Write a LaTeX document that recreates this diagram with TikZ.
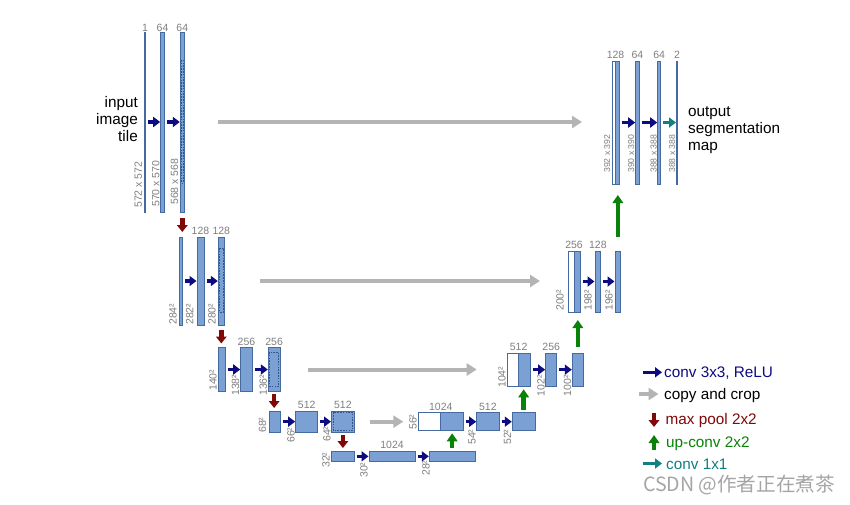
\documentclass[tikz,border=0pt]{standalone}
\usepackage{fontspec}
\setmainfont{Liberation Sans}
\newfontfamily\cjk{Noto Sans CJK SC}
\usetikzlibrary{arrows.meta,fit}
\definecolor{barfill}{RGB}{122,160,212}
\definecolor{barline}{RGB}{68,106,160}
\definecolor{dashc}{RGB}{50,85,140}
\definecolor{labgray}{RGB}{128,128,128}
\definecolor{convc}{RGB}{12,12,128}
\definecolor{copyg}{RGB}{180,180,180}
\definecolor{poolc}{RGB}{128,8,8}
\definecolor{upg}{RGB}{10,130,10}
\definecolor{tealc}{RGB}{16,128,128}
\definecolor{wmc}{RGB}{165,165,165}
\newcommand\UB[6][bar]{\node[#1, fit={(#3,#4) (#5,#6)}] (#2) {};}
\tikzset{
  bar/.style={draw=barline, fill=barfill, line width=0.8pt, inner sep=0pt, outer sep=0pt, minimum width=0pt, minimum height=0pt},
  cbar/.style={bar, fill=white},
  thinbar/.style={bar, line width=1pt},
  dashline/.style={draw=dashc, dash pattern=on 1.6pt off 1.2pt, line width=0.7pt},
  lab/.style={text=labgray, font=\fontsize{10.5}{12}\selectfont, inner sep=0pt},
  toplab/.style={lab, anchor=base, yshift=2.5pt},
  sidelab/.style={lab, rotate=90, anchor=west},
  smalllab/.style={sidelab, font=\fontsize{8.7}{10}\selectfont},
  conv/.style={draw=convc, line width=3.5pt, -{Triangle[length=7pt,width=10pt]}, shorten <=2.5pt, shorten >=0.5pt},
  one/.style={conv, draw=tealc},
  copyc/.style={draw=copyg, line width=4pt, -{Triangle[length=10pt,width=12pt]}},
  pool/.style={draw=poolc, line width=4.5pt, -{Triangle[length=7pt,width=10.5pt]}},
  upc/.style={draw=upg, line width=4.5pt, -{Triangle[length=8pt,width=10.5pt]}},
  txt/.style={font=\fontsize{15.3}{17}\selectfont, inner sep=0pt},
}
\begin{document}
\begin{tikzpicture}[x=1pt,y=-1pt]
\fill[white] (0,0) rectangle (850,504);
\useasboundingbox (0,0) rectangle (850,504);

% ---------- level 1 left ----------
\UB[thinbar]{a1}{144.6}{32}{145.6}{212}
\UB{a2}{160.7}{32}{164.3}{212}
\UB{a3}{180.3}{32}{184.3}{212}
\draw[dashline] (181.4,60) rectangle (183.2,183);
\node[toplab, yshift=-1.5pt] (ta1) at (a1.north) {1};
\node[toplab, yshift=-1.5pt] (ta2) at (a2.north) {64};
\node[toplab, yshift=-1.5pt] (ta3) at (a3.north) {64};
\node[sidelab] (sa1) at (138.3,208) {572 x 572};
\node[sidelab] (sa2) at (155.8,207) {570 x 570};
\node[sidelab] (sa3) at (174.5,205) {568 x 568};
\draw[conv] (a1) -- (a2);
\draw[conv] (a2) -- (a3);
\node[txt, anchor=east, align=right] (inp) at (138,119) {input\\image\\tile};

% ---------- level 1 right ----------
\UB[cbar]{r1a}{612}{61}{619}{184}
\UB{r1ab}{615}{61}{619}{184}
\UB{r1b}{635.7}{61}{639}{184}
\UB{r1c}{657.7}{61}{660.7}{184}
\UB[thinbar]{r1d}{676.5}{61}{677.5}{184}
\node[toplab] (tr1a) at (r1a.north) {128};
\node[toplab] (tr1b) at (r1b.north) {64};
\node[toplab] (tr1c) at (r1c.north) {64};
\node[toplab] (tr1d) at (r1d.north) {2};
\node[smalllab] (sr1a) at (607,173) {392 x 392};
\node[smalllab] (sr1b) at (631,173) {390 x 390};
\node[smalllab] (sr1c) at (653.5,173) {388 x 388};
\node[smalllab] (sr1d) at (672,173) {388 x 388};
\draw[conv] (r1a) -- (r1b);
\draw[conv] (r1b) -- (r1c);
\draw[one] (r1c) -- (r1d);
\node[txt, anchor=west, align=left] (outp) at (688,130) {output\\segmentation\\map};
\draw[copyc, shorten <=33.7pt, shorten >=30pt] (a3.east) -- (a3.east -| r1a.west);

% ---------- level 2 left ----------
\UB{l2a}{179.3}{237}{182.7}{325}
\UB{l2b}{197}{237}{204}{325}
\UB{l2c}{218.3}{237}{224.3}{325}
\draw[dashline] (219.5,248) rectangle (223.1,312);
\node[toplab] (tl2b) at (l2b.north) {128};
\node[toplab] (tl2c) at (l2c.north) {128};
\node[sidelab] (sl2a) at (173,325) {284²};
\node[sidelab] (sl2b) at (189.7,325) {282²};
\node[sidelab] (sl2c) at (212,325) {280²};
\draw[conv] (l2a) -- (l2b);
\draw[conv] (l2b) -- (l2c);
\draw[pool, shorten <=6pt, shorten >=5pt] (a3.south) -- (a3.south |- l2a.north);

% ---------- level 2 right ----------
\UB[cbar]{r2a}{568}{251}{580}{312}
\UB{r2ab}{574}{251}{580}{312}
\UB{r2b}{595}{251}{600.7}{312}
\UB{r2c}{615}{251}{620.7}{312}
\node[toplab] (tr2a) at (r2a.north) {256};
\node[toplab] (tr2b) at (r2b.north) {128};
\node[sidelab] (sr2a) at (560,311) {200²};
\node[sidelab] (sr2b) at (588,311) {198²};
\node[sidelab] (sr2c) at (609,311) {196²};
\draw[conv] (r2a) -- (r2b);
\draw[conv] (r2b) -- (r2c);
\draw[copyc, shorten <=35.7pt, shorten >=28pt] (l2c.east) -- (l2c.east -| r2a.west);
\draw[upc, shorten <=14pt, shorten >=11pt] (r2c.north) -- (r2c.north |- r1ab.south);

% ---------- level 3 left ----------
\UB{l3a}{218.8}{347.5}{225}{391.5}
\UB{l3b}{240.7}{347.5}{252.3}{391.5}
\UB{l3c}{268.3}{347.5}{280}{391.5}
\draw[dashline] (269.8,352) rectangle (278.5,386.5);
\node[toplab, yshift=-0.5pt] (tl3b) at (l3b.north) {256};
\node[toplab, yshift=-0.5pt] (tl3c) at (l3c.north) {256};
\node[sidelab] (sl3a) at (213,391) {140²};
\node[sidelab] (sl3b) at (235.5,396) {138²};
\node[sidelab] (sl3c) at (263.3,396) {136²};
\draw[conv] (l3a) -- (l3b);
\draw[conv] (l3b) -- (l3c);
\draw[pool, shorten <=5pt, shorten >=4pt] (l2c.south) -- (l2c.south |- l3a.north);

% ---------- level 3 right ----------
\UB[cbar]{r3a}{507.3}{353.3}{530}{386}
\UB{r3ab}{518.3}{353.3}{530}{386}
\UB{r3b}{545.7}{353.3}{556.7}{386}
\UB{r3c}{572.3}{353.3}{583.3}{386}
\node[toplab] (tr3a) at (r3a.north) {512};
\node[toplab] (tr3b) at (r3b.north) {256};
\node[sidelab] (sr3a) at (502,388) {104²};
\node[sidelab] (sr3b) at (541,396.5) {102²};
\node[sidelab] (sr3c) at (567.5,396.5) {100²};
\draw[conv] (r3a) -- (r3b);
\draw[conv] (r3b) -- (r3c);
\draw[copyc, shorten <=28.3pt, shorten >=30.6pt] (l3c.east) -- (l3c.east -| r3a.west);
\draw[upc, shorten <=6.5pt, shorten >=8pt] (r3c.north) -- (r3c.north |- r2ab.south);

% ---------- level 4 left ----------
\UB{l4a}{269}{411}{280}{432.3}
\UB{l4b}{295.7}{411}{317.7}{432.3}
\UB{l4c}{331.5}{411}{354.3}{432.3}
\draw[dashline] (333,412.6) rectangle (352.8,430.7);
\node[toplab] (tl4b) at (l4b.north) {512};
\node[toplab] (tl4c) at (l4c.north) {512};
\node[sidelab] (sl4a) at (262.5,433) {68²};
\node[sidelab] (sl4b) at (291,443) {66²};
\node[sidelab] (sl4c) at (327,442) {64²};
\draw[conv] (l4a) -- (l4b);
\draw[conv] (l4b) -- (l4c);
\draw[pool, shorten <=2.5pt, shorten >=3pt] (l3c.south) -- (l3c.south |- l4a.north);

% ---------- level 4 right ----------
\UB[cbar]{r4a}{418.3}{412.7}{463.3}{430.7}
\UB{r4ab}{440.7}{412.7}{463.3}{430.7}
\UB{r4b}{476.7}{412.7}{499}{430.7}
\UB{r4c}{512.3}{412.7}{535}{430.7}
\node[toplab] (tr4a) at (r4a.north) {1024};
\node[toplab] (tr4b) at (r4b.north) {512};
\node[sidelab] (sr4a) at (413,430) {56²};
\node[sidelab] (sr4b) at (472,445) {54²};
\node[sidelab] (sr4c) at (507.5,445) {52²};
\draw[conv] (r4a) -- (r4b);
\draw[conv] (r4b) -- (r4c);
\draw[copyc, shorten <=15.7pt, shorten >=15pt] (l4c.east) -- (l4c.east -| r4a.west);
\draw[upc, shorten <=2.7pt, shorten >=3.3pt] (r4c.north) -- (r4c.north |- r3ab.south);

% ---------- bottom ----------
\UB{b1}{331}{451}{354}{461.7}
\UB{b2}{369}{451}{415}{461.7}
\UB{b3}{429.3}{451}{475}{461.7}
\node[toplab] (tb2) at (b2.north) {1024};
\node[sidelab] (sb1) at (326,468) {32²};
\node[sidelab] (sb2) at (364,478) {30²};
\node[sidelab] (sb3) at (426,476) {28²};
\draw[conv] (b1) -- (b2);
\draw[conv] (b2) -- (b3);
\draw[pool, shorten <=3pt, shorten >=3pt] (l4c.south) -- (l4c.south |- b1.north);
\draw[upc, shorten <=2.7pt, shorten >=2.6pt] (b3.north) -- (b3.north |- r4ab.south);

% ---------- legend ----------
\node[txt, anchor=base west, text=convc] (lg1) at (664,377.5) {conv 3x3, ReLU};
\node[txt, anchor=base west] (lg2) at (664,399) {copy and crop};
\node[txt, anchor=base west, text=poolc] (lg3) at (665.5,424) {max pool 2x2};
\node[txt, anchor=base west, text=upg] (lg4) at (666,447) {up-conv 2x2};
\node[txt, anchor=base west, text=tealc] (lg5) at (666,469.5) {conv 1x1};
\coordinate (k1a) at (643,372.3); \coordinate (k1b) at (662,372.3);
\coordinate (k2a) at (639,394) ;  \coordinate (k2b) at (658.5,394);
\coordinate (k3a) at (654,413);   \coordinate (k3b) at (654,427);
\coordinate (k4a) at (654,449.5); \coordinate (k4b) at (654,435);
\coordinate (k5a) at (643,463.5); \coordinate (k5b) at (662,463.5);
\draw[conv, shorten <=0pt, shorten >=0pt] (k1a) -- (k1b);
\draw[copyc] (k2a) -- (k2b);
\draw[pool] (k3a) -- (k3b);
\draw[upc] (k4a) -- (k4b);
\draw[one, shorten <=0pt, shorten >=0pt] (k5a) -- (k5b);

% ---------- watermark ----------
\node[text=wmc, font=\cjk\fontsize{19.6}{21}\selectfont, inner sep=0pt] (wm) at (739,485) {CSDN @作者正在煮茶};
\end{tikzpicture}
\end{document}
